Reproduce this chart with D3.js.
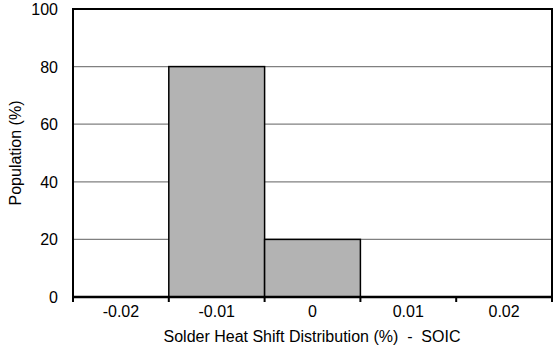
<!DOCTYPE html>
<html><head><meta charset="utf-8">
<script src="https://cdn.jsdelivr.net/npm/d3@7"></script>
<style>body{margin:0;background:#fff}svg{display:block}text{font-family:"Liberation Sans",Arial,sans-serif}</style>
</head><body>
<svg id="c" width="554" height="352"></svg>
<script>
const categories = ["-0.02", "-0.01", "0", "0.01", "0.02"];
const population = [0, 80, 20, 0, 0];
const yTicks = [0, 20, 40, 60, 80, 100];

const svg = d3.select("#c");
const m = {l: 73, r: 552, t: 9, b: 297};
const x = d3.scaleBand().domain(categories).range([m.l, m.r]).padding(0);
const y = d3.scaleLinear().domain([0, 100]).range([m.b, m.t]);

// gridlines
svg.append("g").selectAll("line").data(yTicks.filter(d => d > 0 && d < 100)).join("line")
  .attr("x1", m.l).attr("x2", m.r).attr("y1", d => y(d)).attr("y2", d => y(d))
  .attr("stroke", "#808080").attr("stroke-width", 1.2);

// bars
svg.append("g").selectAll("rect").data(categories.map((c, i) => ({c, v: population[i]})).filter(d => d.v > 0)).join("rect")
  .attr("x", d => x(d.c)).attr("width", x.bandwidth())
  .attr("y", d => y(d.v)).attr("height", d => y(0) - y(d.v))
  .attr("fill", "#b3b3b3").attr("stroke", "#000").attr("stroke-width", 1.5);

// frame
svg.append("rect").attr("x", m.l).attr("y", m.t).attr("width", m.r - m.l).attr("height", m.b - m.t)
  .attr("fill", "none").attr("stroke", "#000").attr("stroke-width", 2);

// x axis
const xa = svg.append("g").attr("transform", `translate(0,${m.b})`);
const bounds = categories.map(c => x(c)).concat([x(categories[categories.length-1]) + x.bandwidth()]);
xa.append("line").attr("x1", m.l - 1).attr("x2", m.r + 1).attr("stroke", "#000").attr("stroke-width", 2.5);
xa.selectAll("line.t").data(bounds).join("line").attr("class", "t")
  .attr("x1", d => d).attr("x2", d => d).attr("y1", 0).attr("y2", 5)
  .attr("stroke", "#000").attr("stroke-width", 2);
xa.selectAll("text").data(categories).join("text")
  .attr("x", d => x(d) + x.bandwidth() / 2).attr("y", 20)
  .attr("text-anchor", "middle").attr("font-size", 16).attr("fill", "#000").text(d => d);

// y axis labels
svg.append("g").selectAll("text").data(yTicks).join("text")
  .attr("x", 58).attr("y", d => y(d) + 6).attr("text-anchor", "end")
  .attr("font-size", 16).attr("fill", "#000").text(d => d);

svg.append("text").attr("x", 312).attr("y", 342).attr("text-anchor", "middle")
  .attr("font-size", 16).style("white-space", "pre").text("Solder Heat Shift Distribution (%)  -  SOIC");
svg.append("text").attr("transform", `translate(21,${(m.t + m.b) / 2}) rotate(-90)`)
  .attr("text-anchor", "middle").attr("font-size", 16).text("Population (%)");
</script>
</body></html>
